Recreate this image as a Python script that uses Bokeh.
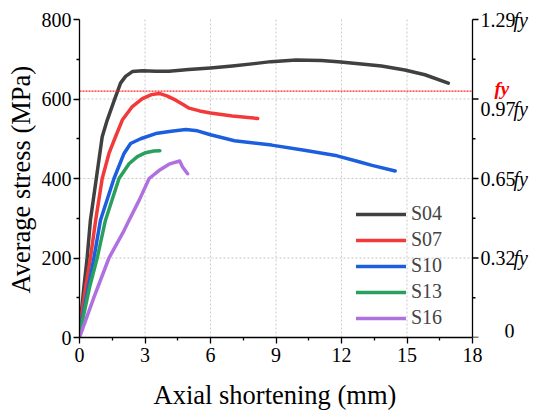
from bokeh.plotting import figure
from bokeh.models import Range1d, FixedTicker, Legend, LegendItem, Title
from bokeh.core.properties import value
from bokeh.embed import file_html
from bokeh.resources import INLINE

# ---------------- data ----------------
x_min, x_max = 0, 18
y_min, y_max = 0, 800
x_ticks = [0, 3, 6, 9, 12, 15, 18]
x_minor = [1.5, 4.5, 7.5, 10.5, 13.5, 16.5]
y_ticks = [0, 200, 400, 600, 800]
y_minor = [100, 300, 500, 700]
right_labels = ["0", "0.32", "0.65", "0.97", "1.29"]
fy = 620
x_title = "Axial shortening (mm)"
y_title = "Average stress (MPa)"

series_names = ["S04", "S07", "S10", "S13", "S16"]
s04_x = [0, 0.2, 0.35, 0.5, 0.77, 1.04, 1.27, 1.62, 1.88, 2.11, 2.42, 2.88, 3.5, 4.1,
         5.0, 6.0, 7.0, 8.0, 8.77, 9.92, 11.07, 11.84, 12.91, 13.83, 14.9, 15.82, 16.89]
s04_y = [17, 126, 200, 295, 400, 505, 547, 601, 640, 657, 669, 671, 670, 670,
         674, 678, 683, 689, 694, 698, 697, 694, 688, 683, 673, 661, 640]
s07_x = [0, 0.28, 0.5, 0.74, 1.04, 1.35, 1.65, 1.96, 2.42, 2.88, 3.3, 3.65, 4.0, 4.41,
         4.8, 5.02, 5.5, 6.0, 7.0, 8.16]
s07_y = [21, 126, 200, 295, 400, 463, 505, 547, 581, 601, 611, 614, 608, 597,
         584, 577, 570, 565, 557, 551]
s10_x = [0, 0.4, 0.66, 0.96, 1.58, 2.04, 2.34, 2.8, 3.49, 4.2, 4.87, 5.4, 6.0, 7.1,
         8.8, 10.3, 11.8, 12.8, 13.4, 14.46]
s10_y = [13, 126, 200, 295, 400, 463, 488, 500, 513, 519, 523, 520, 510, 495,
         484, 471, 457, 442, 433, 419]
s13_x = [0, 0.46, 0.81, 1.19, 1.81, 2.27, 2.65, 3.03, 3.4, 3.68]
s13_y = [8, 126, 200, 295, 400, 437, 455, 465, 469, 470]
s16_x = [0, 0.66, 1.35, 2.04, 2.27, 2.73, 3.19, 3.64, 4.1, 4.59, 4.72, 4.95]
s16_y = [0, 101, 200, 269, 295, 345, 400, 420, 436, 444, 429, 412]

series_x = [s04_x, s07_x, s10_x, s13_x, s16_x]
series_y = [s04_y, s07_y, s10_y, s13_y, s16_y]
colors = ["#404040", "#f23a3a", "#1c5fde", "#2aa05e", "#b070e0"]

FONT = "Liberation Serif"

# the frame extends past x_max (right) and past y_max (top) so that the
# right-hand normalised axis and its labels are drawn inside it
AXIS_W, AXIS_H = 393, 318
EXTRA_R, EXTRA_T = 70, 11
x_end = x_max * (AXIS_W + EXTRA_R) / AXIS_W
y_end = y_max * (AXIS_H + EXTRA_T) / AXIS_H

p = figure(frame_width=AXIS_W + EXTRA_R, frame_height=AXIS_H + EXTRA_T,
           output_backend="svg", toolbar_location=None,
           x_range=Range1d(x_min, x_end), y_range=Range1d(y_min, y_end),
           min_border_left=79, min_border_right=0, min_border_top=19 - EXTRA_T,
           min_border_bottom=75)
p.outline_line_color = None
p.background_fill_color = "white"

GRID_C = "#c8c8c8"
p.xgrid.visible = False
p.ygrid.visible = False
inner_x = x_ticks[1:-1]
inner_y = y_ticks[1:-1]
p.segment(x0=inner_x, x1=inner_x, y0=[y_min] * len(inner_x), y1=[y_max] * len(inner_x),
          line_color=GRID_C, line_dash="2 2", line_width=1)
p.segment(x0=[x_min] * len(inner_y), x1=[x_max] * len(inner_y), y0=inner_y, y1=inner_y,
          line_color=GRID_C, line_dash="2 2", line_width=1)

def style_axis(ax, ticks, minor):
    ax.ticker = FixedTicker(ticks=ticks, minor_ticks=minor)
    ax.axis_line_color = "black"
    ax.axis_line_width = 1.3
    ax.major_tick_line_color = "black"
    ax.minor_tick_line_color = "black"
    ax.major_tick_line_width = 1.3
    ax.minor_tick_line_width = 1.3
    ax.major_tick_in = 0
    ax.major_tick_out = 6
    ax.minor_tick_in = 0
    ax.minor_tick_out = 3
    ax.major_label_text_font = FONT
    ax.major_label_text_font_size = "20px"
    ax.major_label_text_color = "black"

xa, ya = p.xaxis[0], p.yaxis[0]
style_axis(xa, x_ticks, x_minor)
style_axis(ya, y_ticks, y_minor)
xa.bounds = (x_min, x_max)
ya.bounds = (y_min, y_max)
xa.major_label_standoff = 4
ya.major_label_standoff = 2
# blank spacer label to push the x title down a little
xa.axis_label = "\u00a0"
xa.axis_label_text_font_size = "8px"
xa.axis_label_standoff = 1

# axis titles, aligned on the bounded axes (the frame is wider/taller)
p.add_layout(Title(text=x_title, align="left", offset=74, standoff=0,
                   text_font=FONT, text_font_size="26.5px",
                   text_font_style="normal", text_color="black"), "below")
p.add_layout(Title(text=y_title, align="left", offset=44, standoff=6,
                   text_font=FONT, text_font_size="26.5px",
                   text_font_style="normal", text_color="black"), "left")

# right-hand axis (stress normalised by fy) drawn at x_max
p.segment(x0=[x_max], x1=[x_max], y0=[y_min], y1=[y_max], line_color="black",
          line_width=1.3)
p.ray(x=[x_max] * len(y_ticks), y=y_ticks, length=6, length_units="screen", angle=0,
      line_color="black", line_width=1.3)
p.ray(x=[x_max] * len(y_minor), y=y_minor, length=3, length_units="screen", angle=0,
      line_color="black", line_width=1.3)
num_off = [32 if t == "0" else 8 for t in right_labels]
num_yoff = [10 if t == "0.97" else (-7 if t == "0" else 0) for t in right_labels]
p.text(x=[x_max] * len(y_ticks), y=y_ticks, text=right_labels, x_offset=num_off,
       y_offset=num_yoff, text_baseline="middle", text_align="left",
       text_font=value(FONT), text_font_size=value("20px"), text_color="black")
fy_t = [t for t, lab in zip(y_ticks, right_labels) if lab != "0"]
fy_yoff = [10 if lab == "0.97" else 0 for lab in right_labels if lab != "0"]
p.text(x=[x_max] * len(fy_t), y=fy_t, text=["fy"] * len(fy_t), x_offset=41,
       y_offset=fy_yoff, text_baseline="middle", text_align="left",
       text_font=value(FONT), text_font_size=value("20px"), text_font_style="italic",
       text_color="black")

# curves
items = []
for name, xs, ys, c in zip(series_names, series_x, series_y, colors):
    r = p.line(xs, ys, line_color=c, line_width=3.5, line_cap="round",
               line_join="round")
    items.append(LegendItem(label=name, renderers=[r]))

# fy line and label
p.segment(x0=[x_min], x1=[x_max], y0=[fy], y1=[fy], line_color="#ff2020",
          line_dash="2 1", line_width=1.2)
p.text(x=[x_max], y=[fy], text=["fy"], x_offset=22, y_offset=-3,
       text_baseline="middle", text_align="left", text_font=value(FONT),
       text_font_size=value("19px"), text_font_style="bold italic",
       text_color="#ff0000")

legend = Legend(items=items, location=(277, 8), border_line_color=None,
                background_fill_alpha=0, label_text_font=FONT,
                label_text_font_size="20px", glyph_width=50, glyph_height=20,
                label_height=20, label_standoff=5, spacing=3, padding=0, margin=0)
p.add_layout(legend)

open("out.html", "w").write(file_html(p, INLINE))
